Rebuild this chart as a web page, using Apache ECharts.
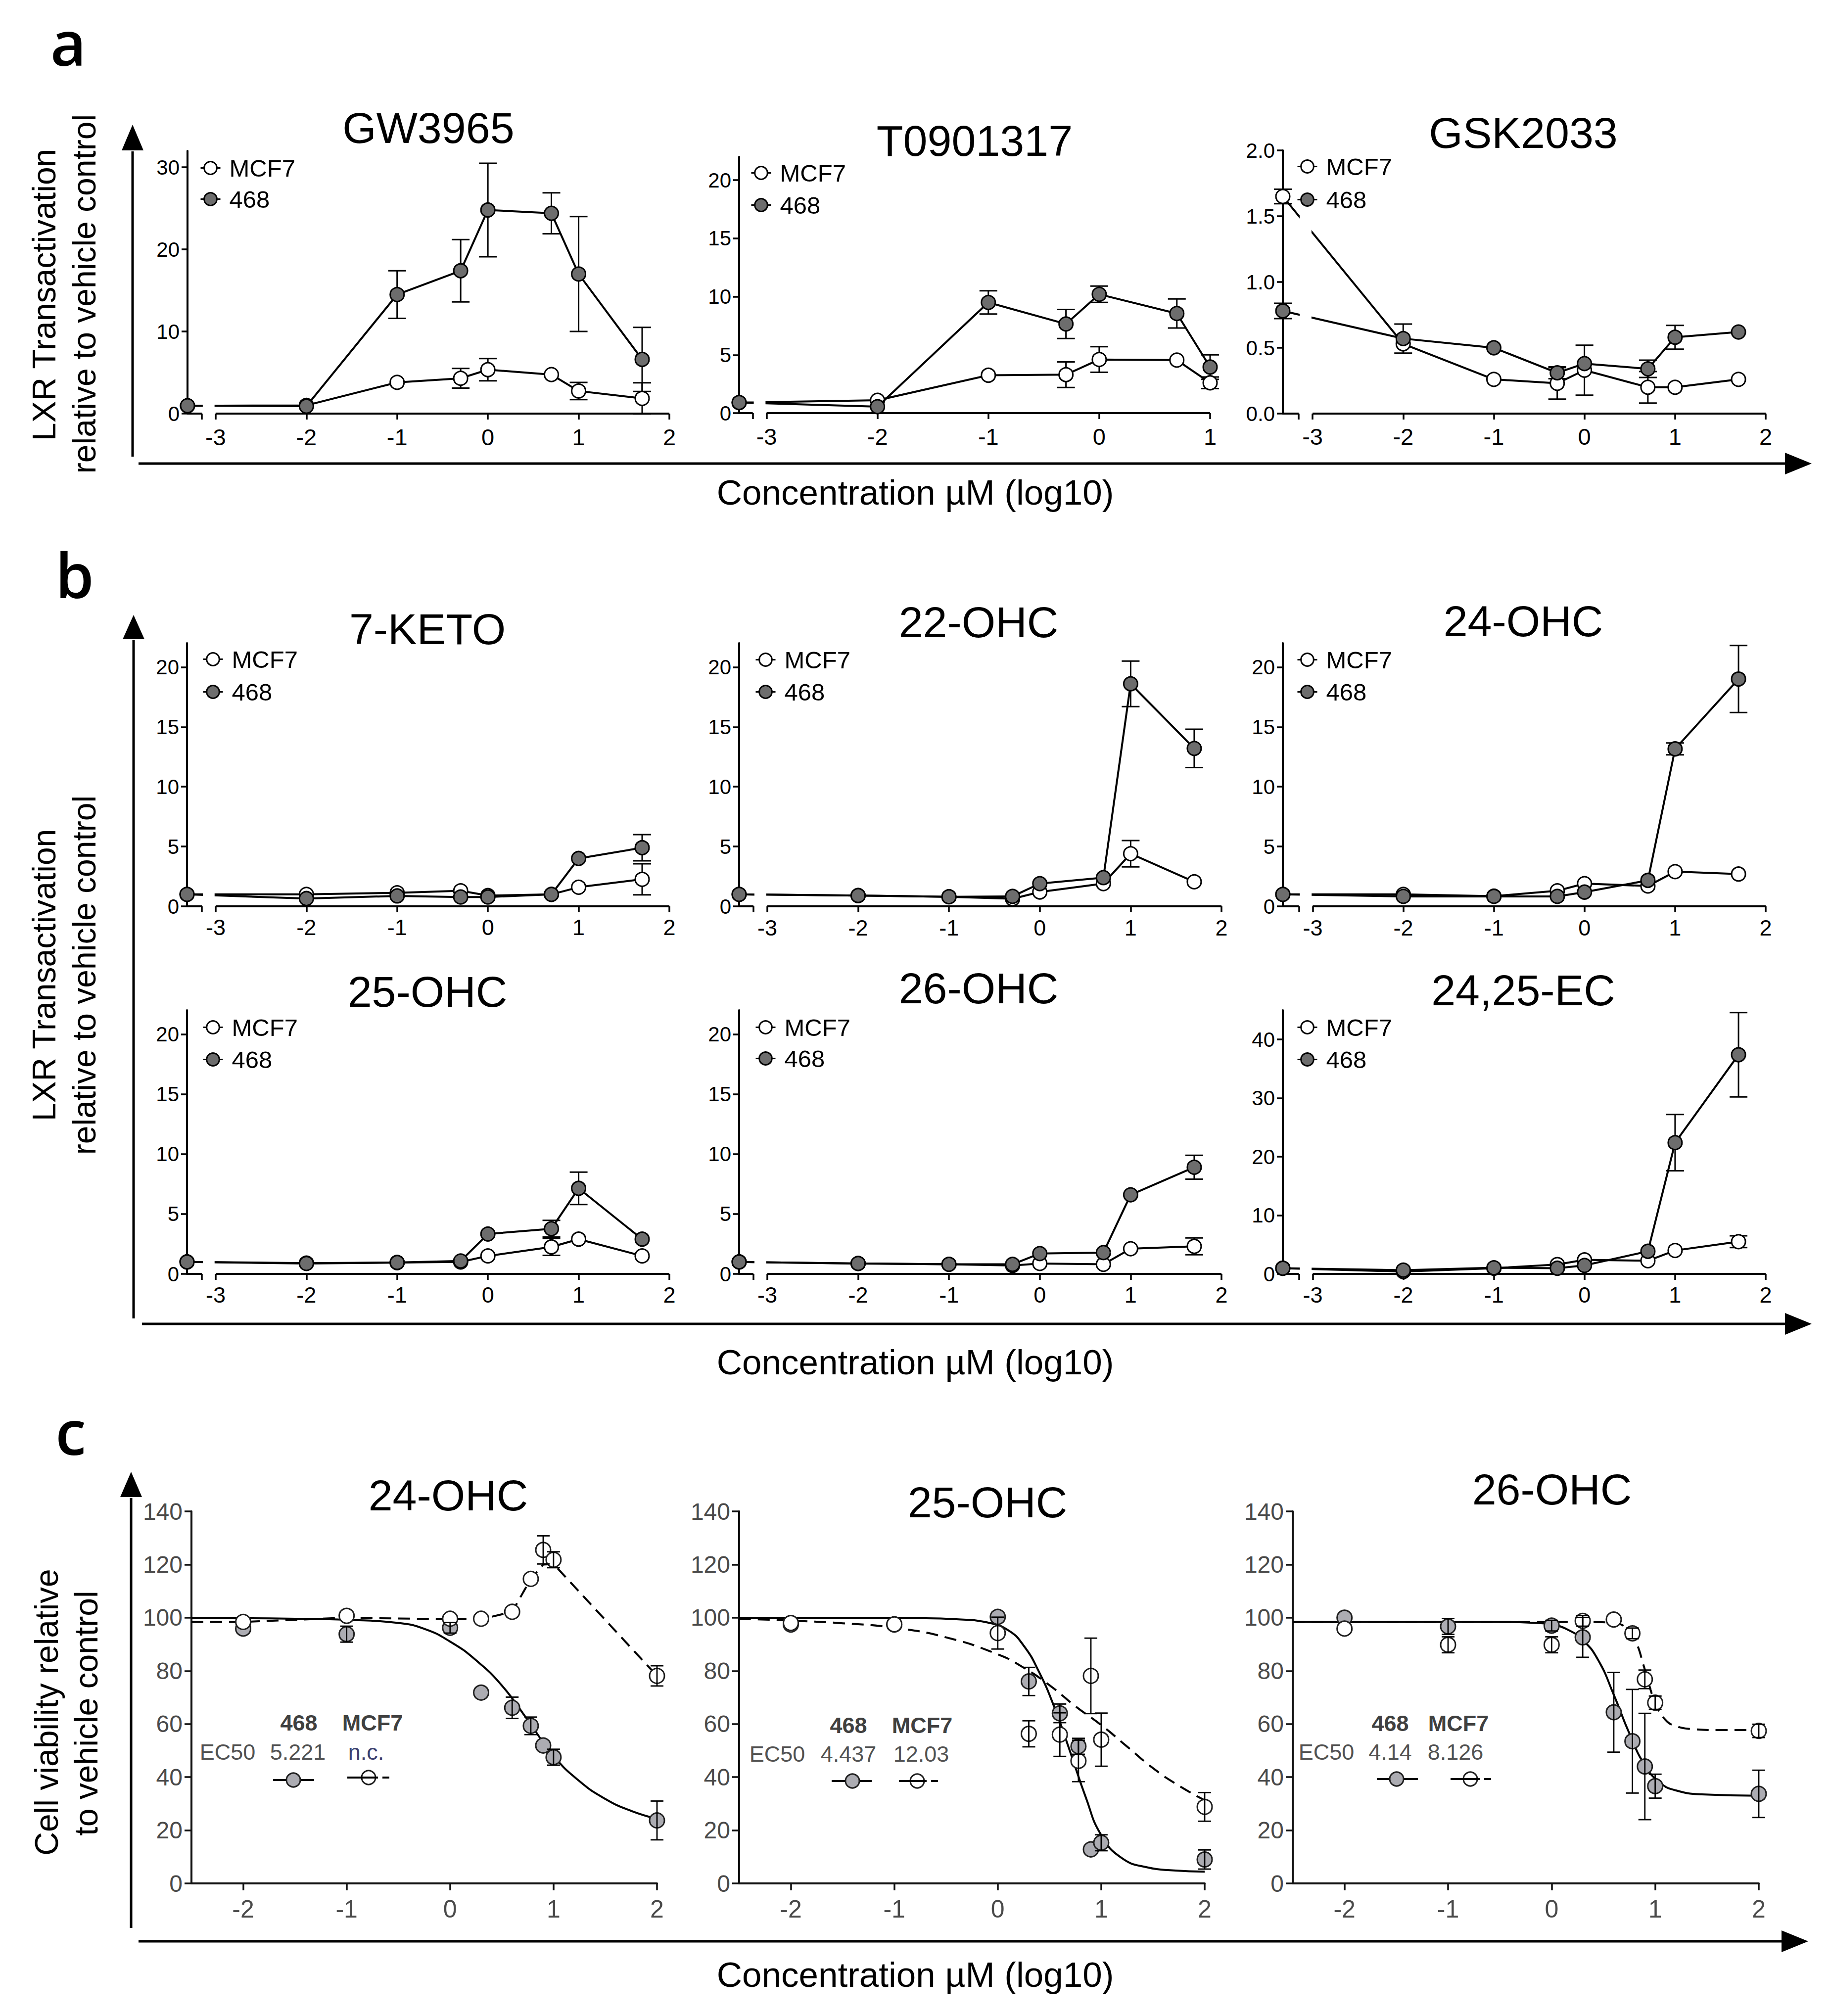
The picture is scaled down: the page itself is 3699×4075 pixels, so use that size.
<!DOCTYPE html>
<html>
<head>
<meta charset="utf-8">
<script src="https://cdn.jsdelivr.net/npm/echarts@6/dist/echarts.min.js"></script>
<style>
  html, body { margin: 0; padding: 0; background: #fff; }
  #chart { width: 3699px; height: 4075px; }
</style>
</head>
<body>
<div id="chart"></div>
<script>
// ---- doses (log10 uM); the vehicle point is drawn on the y axis ----
const doseStd = [-2, -1, -0.3, 0, 0.7, 1, 1.7];
const doseT0901317 = [-2, -1, -0.3, 0, 0.7, 1];
const doseC = [-2, -1, 0, 0.3, 0.6, 0.78, 0.9, 1, 2];

// ---- tick labels ----
const xTicksAB = [-3, -2, -1, 0, 1, 2];
const xTicksT09 = [-3, -2, -1, 0, 1];
const xTicksC = [-2, -1, 0, 1, 2];
const yTicksGW = [0, 10, 20, 30];
const yTicks20 = [0, 5, 10, 15, 20];
const yTicksGsk = [0, 0.5, 1, 1.5, 2];
const yTicks40 = [0, 10, 20, 30, 40];
const yTicksC = [0, 20, 40, 60, 80, 100, 120, 140];

// ---- panel a (first value = vehicle) ----
const gw3965Mcf7 = [0.95, 1.0, 3.8, 4.3, 5.35, 4.75, 2.75, 1.85];
const gw3965Mcf7Err = [0, 0, 0, 1.2, 1.35, 0, 1.05, 1.9];
const gw3965M468 = [0.96, 0.9, 14.5, 17.4, 24.8, 24.4, 17.0, 6.6];
const gw3965M468Err = [0, 0, 2.9, 3.8, 5.7, 2.5, 7.0, 3.9];

const t0901317Mcf7 = [0.9, 1.1, 3.25, 3.3, 4.6, 4.55, 2.6];
const t0901317Mcf7Err = [0, 0, 0, 1.1, 1.1, 0, 0.5];
const t0901317M468 = [0.91, 0.55, 9.5, 7.65, 10.2, 8.55, 3.95];
const t0901317M468Err = [0, 0, 1.0, 1.25, 0.7, 1.25, 1.05];

const gsk2033Mcf7 = [1.65, 0.53, 0.26, 0.23, 0.33, 0.2, 0.2, 0.26];
const gsk2033Mcf7Err = [0.055, 0, 0, 0.12, 0.19, 0.12, 0, 0];
const gsk2033M468 = [0.78, 0.57, 0.5, 0.31, 0.38, 0.34, 0.58, 0.62];
const gsk2033M468Err = [0.058, 0.11, 0, 0.045, 0, 0.066, 0.09, 0];

// ---- panel b ----
const keto7Mcf7 = [1.0, 1.0, 1.13, 1.3, 0.9, 1.0, 1.6, 2.26];
const keto7Mcf7Err = [0, 0, 0, 0, 0, 0, 0, 1.3];
const keto7M468 = [1.0, 0.65, 0.87, 0.78, 0.78, 1.0, 4.0, 4.9];
const keto7M468Err = [0, 0, 0, 0, 0, 0, 0, 1.1];

const ohc22Mcf7 = [1.0, 0.9, 0.8, 0.63, 1.2, 1.9, 4.4, 2.05];
const ohc22Mcf7Err = [0, 0, 0, 0, 0, 0, 1.1, 0];
const ohc22M468 = [1.0, 0.9, 0.8, 0.83, 1.9, 2.4, 18.6, 13.2];
const ohc22M468Err = [0, 0, 0, 0, 0, 0, 1.9, 1.6];

const ohc24Mcf7 = [1.0, 1.0, 0.85, 1.3, 1.9, 1.7, 2.9, 2.7];
const ohc24Mcf7Err = [0, 0, 0, 0, 0, 0, 0, 0];
const ohc24M468 = [1.0, 0.83, 0.83, 0.83, 1.19, 2.17, 13.16, 19.0];
const ohc24M468Err = [0, 0, 0, 0, 0, 0, 0.5, 2.8];

const ohc25Mcf7 = [1.0, 0.9, 0.95, 1.0, 1.5, 2.25, 2.9, 1.5];
const ohc25Mcf7Err = [0, 0, 0, 0, 0, 0.7, 0, 0];
const ohc25M468 = [1.0, 0.87, 0.95, 1.08, 3.33, 3.77, 7.14, 2.9];
const ohc25M468Err = [0, 0, 0, 0, 0, 0.7, 1.35, 0];

const ohc26Mcf7 = [1.0, 0.87, 0.8, 0.7, 0.87, 0.8, 2.1, 2.3];
const ohc26Mcf7Err = [0, 0, 0, 0, 0, 0, 0, 0.7];
const ohc26M468 = [1.0, 0.87, 0.8, 0.8, 1.7, 1.78, 6.6, 8.9];
const ohc26M468Err = [0, 0, 0, 0, 0, 0, 0, 1.0];

const ec2425Mcf7 = [0.97, 0.4, 0.97, 1.6, 2.4, 2.25, 4.0, 5.5];
const ec2425Mcf7Err = [0, 0, 0, 0, 0, 0, 0, 1.0];
const ec2425M468 = [0.97, 0.64, 1.05, 0.97, 1.45, 3.86, 22.4, 37.4];
const ec2425M468Err = [0, 0, 0, 0, 0, 0, 4.8, 7.2];

// ---- panel c: points ----
const via24M468 = [95.9, 93.8, 96.2, 71.8, 66.1, 59.3, 51.9, 47.5, 23.7];
const via24M468Err = [0, 3, 2, 0, 4, 3.3, 0, 3, 7.3];
const via24Mcf7 = [98.4, 100.7, 99.6, 99.6, 102.2, 114.6, 125.5, 121.8, 78.1];
const via24Mcf7Err = [0, 0, 0, 0, 0, 0, 5.3, 3, 3.8];

const via25M468 = [97.4, 97.4, 100.3, 76.0, 64.0, 51.6, 12.8, 15.3, 9.0];
const via25M468Err = [0, 0, 0, 5.3, 3.5, 3, 0, 3, 3.6];
const via25Mcf7 = [98, 97.5, 94.2, 56.3, 56.0, 46.1, 78.1, 54.1, 28.8];
const via25Mcf7Err = [0, 0, 6, 4.9, 8.2, 7.8, 14.2, 10, 5.4];

const via26M468 = [100, 96.7, 97, 92.6, 64.4, 53.5, 44.0, 36.6, 33.7];
const via26M468Err = [0, 3, 2, 7.5, 15, 19.5, 20, 4.5, 8.9];
const via26Mcf7 = [95.9, 89.8, 89.8, 98.8, 99.3, 94.1, 76.8, 68.0, 57.4];
const via26Mcf7Err = [0, 3, 3, 2, 0, 2, 3.5, 2.5, 2.5];

// ---- panel c: curves ----
const fit24X468 = [-2.5, -2, -1.5, -1, -0.5, -0.25, 0, 0.25, 0.5, 0.75, 1, 1.25, 1.5, 1.75, 2];
const fit24Y468 = [99.9, 99.8, 99.6, 99.2, 98.0, 95.8, 91, 84, 74.5, 61.5, 48, 38.5, 31.8, 27.3, 24.3];
const fit24XMcf7 = [-2.5, -2, -1, 0, 0.3, 0.6, 0.78, 0.9, 1, 2];
const fit24YMcf7 = [98.4, 98.4, 100, 99.4, 99.4, 102.2, 114.6, 120, 120.2, 78.1];

const fit25X468 = [-2.5, -1.5, -0.75, -0.4, -0.1, 0.1, 0.25, 0.4, 0.55, 0.7, 0.85, 1, 1.2, 1.45, 1.7, 2];
const fit25Y468 = [99.9, 99.9, 99.8, 99.4, 98.2, 95.3, 89.5, 79.5, 66, 49.5, 32.5, 18.2, 9.5, 6.0, 4.9, 4.4];
const fit25XMcf7 = [-2.5, -2, -1.5, -1, -0.5, 0, 0.25, 0.5, 0.75, 1, 1.25, 1.5, 1.75, 2];
const fit25YMcf7 = [99.6, 98.9, 97.9, 96.2, 92.6, 86.2, 81.2, 74.6, 66.7, 59.6, 51.5, 43.4, 36.8, 31.3];

const fit26X468 = [-2.5, -0.5, -0.2, 0, 0.15, 0.3, 0.45, 0.6, 0.75, 0.9, 1.05, 1.2, 1.45, 2];
const fit26Y468 = [98.4, 98.4, 98.1, 97.4, 95.6, 91.6, 84, 71, 56.5, 44.5, 37.8, 35, 33.5, 33];
const fit26XMcf7 = [-2.5, 0.3, 0.55, 0.7, 0.8, 0.9, 1.0, 1.1, 1.2, 1.35, 1.6, 2];
const fit26YMcf7 = [98.4, 98.4, 98.2, 96.8, 92, 80.5, 68, 61.5, 59.2, 58.1, 57.7, 57.7];

const ec50Head = ['468', 'MCF7'];
const ec50Vals = [['5.221', 'n.c.'], ['4.437', '12.03'], ['4.14', '8.126']];

// ---- layout ----
const FONT = "'Liberation Sans', Arial, Helvetica, sans-serif";
const GRAY_AB = '#6d6d6d';
const GRAY_C = '#acacb2';

const panelsAB = [
  { title: 'GW3965', tx: 866, ty: 258, grid: [379, 305, 974, 531], xMin: -3.31, xMax: 2, yMax: 32, yTicks: yTicksGW, xTicks: xTicksAB, dose: doseStd,
    mcf7: gw3965Mcf7, mcf7Err: gw3965Mcf7Err, m468: gw3965M468, m468Err: gw3965M468Err, leg: [424, 331, 377], xFont: 47, xMargin: 24 },
  { title: 'T0901317', tx: 1970, ty: 284, grid: [1494, 317, 952, 518], xMin: -3.248, xMax: 1, yMax: 22, yTicks: yTicks20, xTicks: xTicksT09, dose: doseT0901317,
    mcf7: t0901317Mcf7, mcf7Err: t0901317Mcf7Err, m468: t0901317M468, m468Err: t0901317M468Err, leg: [1537, 341, 389], xFont: 47, xMargin: 24 },
  { title: 'GSK2033', tx: 3079, ty: 268, grid: [2593, 304, 976, 532], xMin: -3.328, xMax: 2, yMax: 2, yTicks: yTicksGsk, xTicks: xTicksAB, dose: doseStd,
    mcf7: gsk2033Mcf7, mcf7Err: gsk2033Mcf7Err, m468: gsk2033M468, m468Err: gsk2033M468Err, leg: [2641, 328, 378], xFont: 47, xMargin: 23,
    yFmt: v => Number(v).toFixed(1) },
  { title: '7-KETO', tx: 864, ty: 1271, grid: [378, 1300, 975, 532], xMin: -3.316, xMax: 2, yMax: 22, yTicks: yTicks20, xTicks: xTicksAB, dose: doseStd,
    mcf7: keto7Mcf7, mcf7Err: keto7Mcf7Err, m468: keto7M468, m468Err: keto7M468Err, leg: [429, 1324, 1373], xFont: 45, xMargin: 20 },
  { title: '22-OHC', tx: 1978, ty: 1257, grid: [1494, 1300, 975, 532], xMin: -3.31, xMax: 2, yMax: 22, yTicks: yTicks20, xTicks: xTicksAB, dose: doseStd,
    mcf7: ohc22Mcf7, mcf7Err: ohc22Mcf7Err, m468: ohc22M468, m468Err: ohc22M468Err, leg: [1546, 1325, 1373], xFont: 45, xMargin: 21 },
  { title: '24-OHC', tx: 3079, ty: 1255, grid: [2593, 1300, 976, 532], xMin: -3.33, xMax: 2, yMax: 22, yTicks: yTicks20, xTicks: xTicksAB, dose: doseStd,
    mcf7: ohc24Mcf7, mcf7Err: ohc24Mcf7Err, m468: ohc24M468, m468Err: ohc24M468Err, leg: [2641, 1325, 1373], xFont: 45, xMargin: 21 },
  { title: '25-OHC', tx: 864, ty: 2004, grid: [378, 2042, 975, 533], xMin: -3.316, xMax: 2, yMax: 22, yTicks: yTicks20, xTicks: xTicksAB, dose: doseStd,
    mcf7: ohc25Mcf7, mcf7Err: ohc25Mcf7Err, m468: ohc25M468, m468Err: ohc25M468Err, leg: [429, 2068, 2116], xFont: 45, xMargin: 20 },
  { title: '26-OHC', tx: 1978, ty: 1997, grid: [1494, 2042, 975, 533], xMin: -3.31, xMax: 2, yMax: 22, yTicks: yTicks20, xTicks: xTicksAB, dose: doseStd,
    mcf7: ohc26Mcf7, mcf7Err: ohc26Mcf7Err, m468: ohc26M468, m468Err: ohc26M468Err, leg: [1546, 2068, 2114], xFont: 45, xMargin: 20 },
  { title: '24,25-EC', tx: 3079, ty: 2001, grid: [2593, 2042, 976, 533], xMin: -3.33, xMax: 2, yMax: 45, yTicks: yTicks40, xTicks: xTicksAB, dose: doseStd,
    mcf7: ec2425Mcf7, mcf7Err: ec2425Mcf7Err, m468: ec2425M468, m468Err: ec2425M468Err, leg: [2641, 2068, 2116], xFont: 45, xMargin: 20 }
];

const panelsC = [
  { title: '24-OHC', tx: 906, ty: 3022, grid: [387, 3055, 941, 752],
    m468: via24M468, m468Err: via24M468Err, mcf7: via24Mcf7, mcf7Err: via24Mcf7Err,
    fx468: fit24X468, fy468: fit24Y468, fxMcf7: fit24XMcf7, fyMcf7: fit24YMcf7, mcf7Smooth: false,
    leg: { head: [604, 753, 3482], val: [460, 602, 740, 3541], sym: [552, 635, 593, 3598, 702, 787, 745, 3593] } },
  { title: '25-OHC', tx: 1996, ty: 3036, grid: [1494, 3055, 941, 752],
    m468: via25M468, m468Err: via25M468Err, mcf7: via25Mcf7, mcf7Err: via25Mcf7Err,
    fx468: fit25X468, fy468: fit25Y468, fxMcf7: fit25XMcf7, fyMcf7: fit25YMcf7, mcf7Smooth: true,
    leg: { head: [1715, 1864, 3487], val: [1571, 1715, 1862, 3545], sym: [1681, 1762, 1723, 3600, 1817, 1896, 1854, 3600] } },
  { title: '26-OHC', tx: 3137, ty: 3010, grid: [2613, 3055, 942, 752],
    m468: via26M468, m468Err: via26M468Err, mcf7: via26Mcf7, mcf7Err: via26Mcf7Err,
    fx468: fit26X468, fy468: fit26Y468, fxMcf7: fit26XMcf7, fyMcf7: fit26YMcf7, mcf7Smooth: true,
    leg: { head: [2810, 2948, 3483], val: [2681, 2810, 2942, 3541], sym: [2783, 2866, 2823, 3596, 2932, 3014, 2972, 3596] } }
];

const grid = [], xAxis = [], yAxis = [], series = [], legend = [], elements = [];

function zip(xs, ys) { return xs.map((x, i) => [x, ys[i]]); }

function errorSeries(idx, xs, ys, errs, cap, lw, z) {
  return {
    type: 'custom', xAxisIndex: idx, yAxisIndex: idx, z: z, clip: false, silent: true,
    data: xs.map((x, i) => [x, ys[i], errs[i]]),
    encode: { x: 0, y: 1 },
    renderItem: function (params, api) {
      const e = api.value(2);
      if (!(e > 0)) return null;
      const x = api.value(0), y = api.value(1);
      const hi = api.coord([x, y + e]);
      const lo = api.coord([x, y - e]);
      const st = { stroke: '#000', lineWidth: lw };
      return {
        type: 'group',
        children: [
          { type: 'line', shape: { x1: hi[0], y1: hi[1], x2: lo[0], y2: lo[1] }, style: st },
          { type: 'line', shape: { x1: hi[0] - cap, y1: hi[1], x2: hi[0] + cap, y2: hi[1] }, style: st },
          { type: 'line', shape: { x1: lo[0] - cap, y1: lo[1], x2: lo[0] + cap, y2: lo[1] }, style: st }
        ]
      };
    }
  };
}

function text(x, y, str, size, opts) {
  opts = opts || {};
  elements.push({
    type: 'text', x: x, y: y, rotation: opts.rotation || 0, silent: true,
    style: {
      text: str, fontSize: size, fontFamily: opts.family || FONT, fontWeight: opts.weight || 'normal',
      fill: opts.color || '#000', align: 'center', verticalAlign: 'middle'
    }
  });
}

// ---- panels a and b ----
panelsAB.forEach(function (p, i) {
  const left = p.grid[0], top = p.grid[1], width = p.grid[2], height = p.grid[3];
  grid.push({ left: left, top: top, width: width, height: height });
  const ppu = width / (p.xMax - p.xMin);
  const breakEnd = -3 - 28 / ppu;

  xAxis.push({
    type: 'value', gridIndex: i, min: p.xMin, max: p.xMax,
    axisLine: { show: false, onZero: false },
    axisTick: { show: true, length: 12, lineStyle: { color: '#000', width: 3.5 }, customValues: [breakEnd].concat(p.xTicks) },
    axisLabel: { customValues: p.xTicks, margin: p.xMargin, fontSize: p.xFont, color: '#000', fontFamily: FONT },
    splitLine: { show: false }
  });
  const yLabel = { customValues: p.yTicks, margin: 16, fontSize: 42, color: '#000', fontFamily: FONT };
  if (p.yFmt) yLabel.formatter = p.yFmt;
  yAxis.push({
    type: 'value', gridIndex: i, min: 0, max: p.yMax,
    axisLine: { show: true, onZero: false, lineStyle: { color: '#000', width: 4 } },
    axisTick: { show: true, length: 12, lineStyle: { color: '#000', width: 3.5 }, customValues: p.yTicks },
    axisLabel: yLabel,
    splitLine: { show: false }
  });

  const xs = [p.xMin].concat(p.dose);
  series.push(errorSeries(i, xs, p.mcf7, p.mcf7Err, 18, 3, 2));
  series.push(errorSeries(i, xs, p.m468, p.m468Err, 18, 3, 2));
  series.push({
    type: 'line', name: 'MCF7', xAxisIndex: i, yAxisIndex: i, z: 3, clip: false,
    data: zip(xs, p.mcf7), symbol: 'circle', symbolSize: 28,
    itemStyle: { color: '#fff', borderColor: '#000', borderWidth: 3 },
    lineStyle: { color: '#000', width: 4 }
  });
  series.push({
    type: 'line', name: '468', xAxisIndex: i, yAxisIndex: i, z: 4, clip: false,
    data: zip(xs, p.m468), symbol: 'circle', symbolSize: 28,
    itemStyle: { color: GRAY_AB, borderColor: '#000', borderWidth: 3 },
    lineStyle: { color: '#000', width: 4 },
    // x axis drawn as two pieces around the break
    markLine: {
      z: 1, silent: true, symbol: ['none', 'none'], label: { show: false },
      lineStyle: { color: '#000', width: 4, type: 'solid' },
      data: [
        [{ coord: [p.xMin, 0] }, { coord: [breakEnd, 0] }],
        [{ coord: [-3, 0] }, { coord: [p.xMax, 0] }]
      ]
    },
    // white gap that cuts the lines at the axis break
    markArea: {
      z: 6, silent: true, label: { show: false }, itemStyle: { color: '#fff' },
      data: [[{ xAxis: breakEnd + 2 / ppu }, { xAxis: -3 - 2.2 / ppu }]]
    }
  });

  legend.push({
    orient: 'vertical', left: p.leg[0] - 20, top: p.leg[1] - 16, padding: 0,
    itemGap: (p.leg[2] - p.leg[1]) - 32, itemWidth: 40, itemHeight: 32, z: 10,
    selectedMode: false,
    lineStyle: { color: '#000', width: 3 },
    textStyle: { fontSize: 49, color: '#000', fontFamily: FONT, lineHeight: 32, padding: [0, 0, 0, 13] },
    data: [
      { name: 'MCF7', itemStyle: { color: '#fff', borderColor: '#000', borderWidth: 3 } },
      { name: '468', itemStyle: { color: GRAY_AB, borderColor: '#000', borderWidth: 3 } }
    ]
  });

  text(p.tx, p.ty, p.title, 88);
});

// ---- panel c ----
panelsC.forEach(function (p, k) {
  const i = panelsAB.length + k;
  grid.push({ left: p.grid[0], top: p.grid[1], width: p.grid[2], height: p.grid[3] });
  xAxis.push({
    type: 'value', gridIndex: i, min: -2.5, max: 2,
    axisLine: { show: true, onZero: false, lineStyle: { color: '#111', width: 4 } },
    axisTick: { show: true, length: 14, lineStyle: { color: '#111', width: 3.5 }, customValues: xTicksC },
    axisLabel: { customValues: xTicksC, margin: 27, fontSize: 50, color: '#4a4a4a', fontFamily: FONT },
    splitLine: { show: false }
  });
  yAxis.push({
    type: 'value', gridIndex: i, min: 0, max: 140,
    axisLine: { show: true, onZero: false, lineStyle: { color: '#111', width: 4 } },
    axisTick: { show: true, length: 14, lineStyle: { color: '#111', width: 3.5 }, customValues: yTicksC },
    axisLabel: { customValues: yTicksC, margin: 18, fontSize: 48, color: '#4a4a4a', fontFamily: FONT },
    splitLine: { show: false }
  });

  series.push({
    type: 'line', name: 'fit 468 ' + k, xAxisIndex: i, yAxisIndex: i, z: 3, clip: false,
    data: zip(p.fx468, p.fy468), showSymbol: false, symbol: 'none', smooth: 0.5,
    lineStyle: { color: '#000', width: 4 }
  });
  series.push({
    type: 'line', name: 'fit MCF7 ' + k, xAxisIndex: i, yAxisIndex: i, z: 3, clip: false,
    data: zip(p.fxMcf7, p.fyMcf7), showSymbol: false, symbol: 'none',
    smooth: p.mcf7Smooth ? 0.5 : false,
    lineStyle: { color: '#000', width: 4, type: [24, 14] }
  });
  series.push({
    type: 'scatter', name: 'pts 468 ' + k, xAxisIndex: i, yAxisIndex: i, z: 4, clip: false,
    data: zip(doseC, p.m468), symbol: 'circle', symbolSize: 30,
    itemStyle: { color: GRAY_C, borderColor: '#1e1e1e', borderWidth: 3, opacity: 1 }
  });
  series.push({
    type: 'scatter', name: 'pts MCF7 ' + k, xAxisIndex: i, yAxisIndex: i, z: 5, clip: false,
    data: zip(doseC, p.mcf7), symbol: 'circle', symbolSize: 30,
    itemStyle: { color: '#fff', borderColor: '#1e1e1e', borderWidth: 3, opacity: 1 }
  });
  series.push(errorSeries(i, doseC, p.m468, p.m468Err, 13, 2.8, 6));
  series.push(errorSeries(i, doseC, p.mcf7, p.mcf7Err, 13, 2.8, 6));

  text(p.tx, p.ty, p.title, 88);

  // EC50 box
  const L = p.leg;
  text(L.head[0], L.head[2], ec50Head[0], 45, { weight: 'bold', color: '#404040' });
  text(L.head[1], L.head[2], ec50Head[1], 45, { weight: 'bold', color: '#404040' });
  text(L.val[0], L.val[3], 'EC50', 45, { color: '#525252' });
  text(L.val[1], L.val[3], ec50Vals[k][0], 45, { color: '#525252' });
  text(L.val[2], L.val[3], ec50Vals[k][1], 45, { color: ec50Vals[k][1] === 'n.c.' ? '#3b3f6e' : '#525252' });
  const s = L.sym;
  elements.push({ type: 'line', silent: true, shape: { x1: s[0], y1: s[3], x2: s[1], y2: s[3] }, style: { stroke: '#000', lineWidth: 4 } });
  elements.push({ type: 'circle', silent: true, shape: { cx: s[2], cy: s[3], r: 14 }, style: { fill: GRAY_C, stroke: '#1e1e1e', lineWidth: 3 } });
  elements.push({ type: 'circle', silent: true, shape: { cx: s[6], cy: s[7], r: 14 }, style: { fill: '#fff', stroke: '#1e1e1e', lineWidth: 3 } });
  elements.push({ type: 'line', silent: true, shape: { x1: s[4], y1: s[7], x2: s[5], y2: s[7] },
    style: { stroke: '#000', lineWidth: 4, lineDash: [s[6] + 19 - s[4], 9, s[5] - (s[6] + 28), 200] } });
});

// ---- big frame arrows, labels and axis titles ----
function arrowUp(x, yBottom, tip, base) {
  elements.push({ type: 'line', silent: true, shape: { x1: x, y1: yBottom, x2: x, y2: base + 2 }, style: { stroke: '#000', lineWidth: 5 } });
  elements.push({ type: 'polygon', silent: true, shape: { points: [[x, tip], [x - 22, base], [x + 22, base]] }, style: { fill: '#000' } });
}
function arrowRight(y, xLeft, tip, base) {
  elements.push({ type: 'line', silent: true, shape: { x1: xLeft, y1: y, x2: base + 2, y2: y }, style: { stroke: '#000', lineWidth: 5 } });
  elements.push({ type: 'polygon', silent: true, shape: { points: [[tip, y], [base, y - 22], [base, y + 22]] }, style: { fill: '#000' } });
}
arrowUp(268, 923, 252, 304);
arrowRight(937, 280, 3662, 3608);
arrowUp(270, 2665, 1243, 1292);
arrowRight(2676, 287, 3662, 3608);
arrowUp(265, 3897, 2975, 3026);
arrowRight(3924, 280, 3655, 3601);

const PANEL_FONT = "'Open Sans', 'Noto Sans', sans-serif";
text(138, 84, 'a', 125, { family: PANEL_FONT, weight: 600 });
text(151, 1160, 'b', 125, { family: PANEL_FONT, weight: 600 });
text(143, 2892, 'c', 125, { family: PANEL_FONT, weight: 600 });

const xTitle = 'Concentration \u00b5M (log10)';
text(1850, 995, xTitle, 71);
text(1850, 2753, xTitle, 71);
text(1850, 3991, xTitle, 71);

const ROT = Math.PI / 2;
text(89, 596, 'LXR Transactivation', 66, { rotation: ROT });
text(170, 594, 'relative to vehicle control', 66, { rotation: ROT });
text(89, 1971, 'LXR Transactivation', 66, { rotation: ROT });
text(170, 1971, 'relative to vehicle control', 66, { rotation: ROT });
text(94, 3461, 'Cell viability relative', 66, { rotation: ROT });
text(174, 3463, 'to vehicle control', 66, { rotation: ROT });

const chart = echarts.init(document.getElementById('chart'), null, { renderer: 'svg' });
chart.setOption({
  animation: false,
  backgroundColor: '#fff',
  grid: grid,
  xAxis: xAxis,
  yAxis: yAxis,
  legend: legend,
  series: series,
  graphic: { elements: elements }
});
</script>
</body>
</html>
